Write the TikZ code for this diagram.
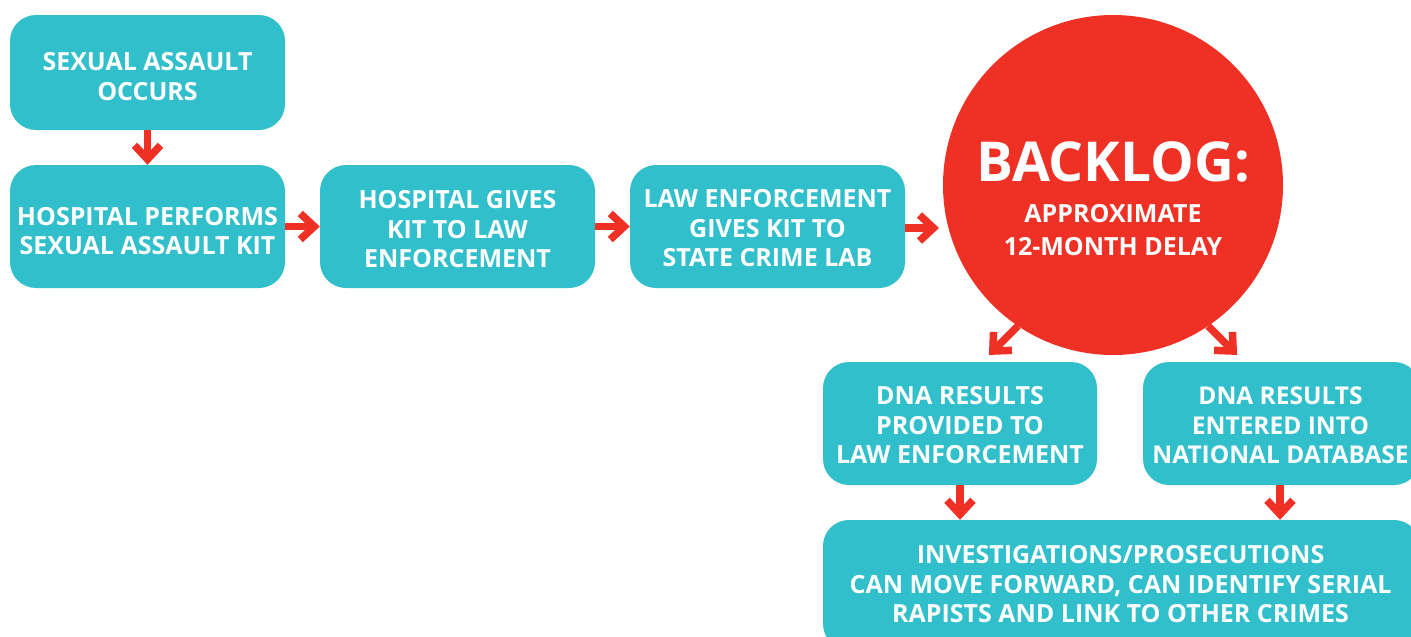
\documentclass[tikz,border=0pt]{standalone}
\usepackage{fontspec}
\setmainfont{Open Sans}
\usetikzlibrary{arrows.meta,calc}
\definecolor{teal1}{HTML}{30BFCB}
\definecolor{red1}{HTML}{EE3124}
\tikzset{
  box/.style={fill=teal1, rounded corners=26pt, inner sep=0pt},
  txt/.style={text=white, align=center,
    font=\bfseries\fontsize{25}{29.5}\selectfont, inner sep=0pt},
  arr/.style={draw=red1, line width=7.5pt, line join=miter,
    -{Straight Barb[length=14pt,width=26pt,line join=miter]}},
}
\begin{document}
\begin{tikzpicture}[x=1pt,y=-1pt]
\useasboundingbox (0,0) rectangle (1411,637);
\clip (0,0) rectangle (1411,637);
\node[box, minimum width=275pt, minimum height=115pt] (b1) at (147.5,72.5) {};
\node[box, minimum width=275pt, minimum height=123pt] (b2) at (147.5,226.5) {};
\node[box, minimum width=275pt, minimum height=123pt] (b3) at (457.5,226.5) {};
\node[box, minimum width=275pt, minimum height=123pt] (b4) at (767.5,226.5) {};
\node[circle, fill=red1, minimum size=340pt, inner sep=0pt] (circ) at (1113,185) {};
\node[box, minimum width=274pt, minimum height=123pt] (b5) at (960,423.5) {};
\node[box, minimum width=277pt, minimum height=123pt] (b6) at (1281.5,423.5) {};
\node[box, minimum width=597pt, minimum height=130pt] (b7) at (1121.5,585) {};
\node[txt] (b1t) at ($(b1)+(0,4)$) {SEXUAL ASSAULT\\OCCURS};
\node[txt] (b2t) at ($(b2)+(0,4.5)$) {HOSPITAL PERFORMS\\SEXUAL ASSAULT KIT};
\node[txt] (b3t) at ($(b3)+(0,3)$) {HOSPITAL GIVES\\KIT TO LAW\\ENFORCEMENT};
\node[txt] (b4t) at ($(b4)+(0,2)$) {LAW ENFORCEMENT\\GIVES KIT TO\\STATE CRIME LAB};
\node[text=white, font=\bfseries\fontsize{55}{60}\selectfont, inner sep=0pt] (bl) at (1113,162) {BACKLOG:};
\node[text=white, align=center, font=\bfseries\fontsize{25}{33}\selectfont, inner sep=0pt] (ap) at (1113,230) {APPROXIMATE\\12-MONTH DELAY};
\node[txt] (b5t) at ($(b5)+(0,2)$) {DNA RESULTS\\PROVIDED TO\\LAW ENFORCEMENT};
\node[txt, font=\bfseries\fontsize{24.5}{29.5}\selectfont] (b6t) at ($(b6)+(-1,2)$) {DNA RESULTS\\ENTERED INTO\\NATIONAL DATABASE};
\node[txt] (b7t) at ($(b7)+(-1,-0.5)$) {INVESTIGATIONS/PROSECUTIONS\\CAN MOVE FORWARD, CAN IDENTIFY SERIAL\\RAPISTS AND LINK TO OTHER CRIMES};
\coordinate (s4) at (b4.east |- 0,228);
\coordinate (t4) at (939,228);
\coordinate (cl) at ($(circ.center)+(124:170)$);
\coordinate (cr) at ($(circ.center)+(56:170)$);
\coordinate (tl) at ($(cl)+(-29,29)$);
\coordinate (tr) at ($(cr)+(29,29)$);
\draw[arr] (b1) -- (b2);
\draw[arr] (b2) -- (b3);
\draw[arr] (b3) -- (b4);
\draw[arr] (s4) -- (t4);
\draw[arr] (cl) -- (tl);
\draw[arr] (cr) -- (tr);
\draw[arr] (b5.south) -- (b5.south |- b7.north);
\draw[arr] (b6.south -| 1280,0) -- (b7.north -| 1280,0);
\end{tikzpicture}
\end{document}
